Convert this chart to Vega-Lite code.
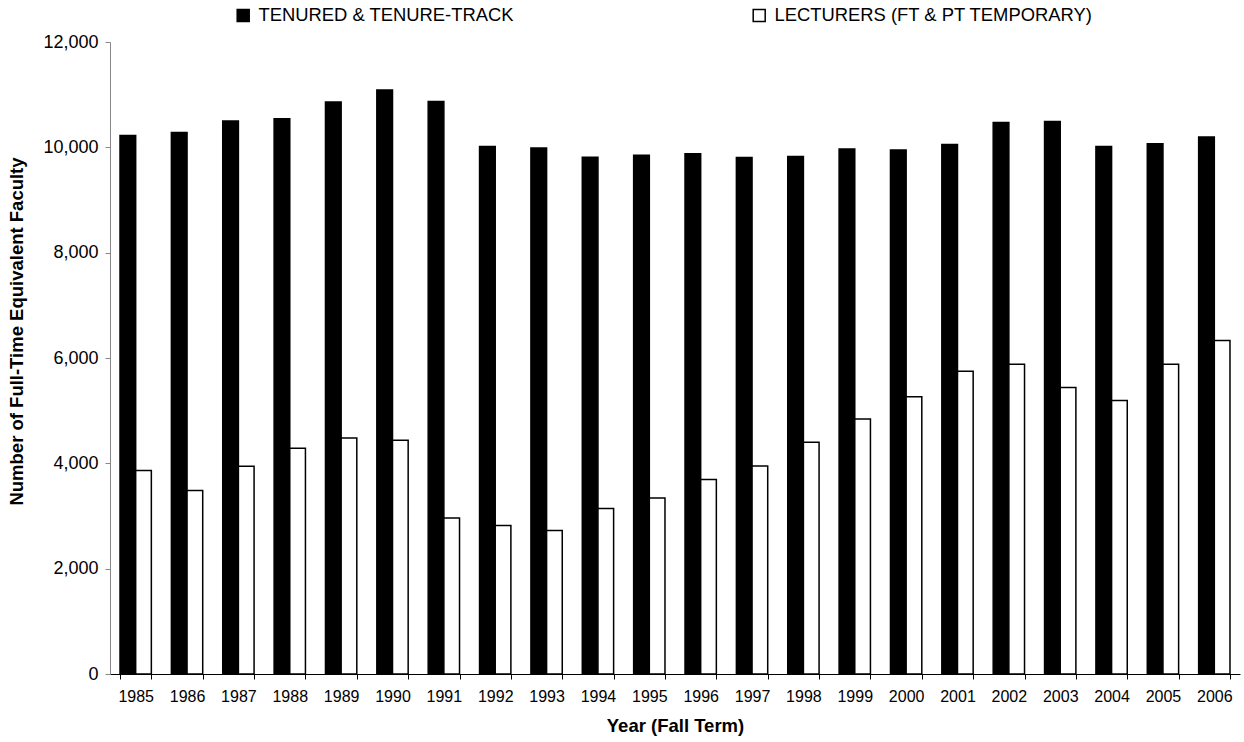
{
  "$schema": "https://vega.github.io/schema/vega-lite/v6.json",
  "width": 1130,
  "height": 632,
  "autosize": {"type": "none"},
  "padding": {"left": 110, "top": 42, "right": 4, "bottom": 68},
  "background": "white",
  "config": {
    "view": {"stroke": null},
    "font": "Liberation Sans",
    "axis": {"grid": false, "labelFont": "Liberation Sans", "titleFont": "Liberation Sans", "labelColor": "black", "titleColor": "black"},
    "legend": {"labelFont": "Liberation Sans", "labelColor": "black"}
  },
  "data": {
    "values": [
      {"year": "1985", "series": "TENURED & TENURE-TRACK", "value": 10224},
      {"year": "1986", "series": "TENURED & TENURE-TRACK", "value": 10281},
      {"year": "1987", "series": "TENURED & TENURE-TRACK", "value": 10498},
      {"year": "1988", "series": "TENURED & TENURE-TRACK", "value": 10542},
      {"year": "1989", "series": "TENURED & TENURE-TRACK", "value": 10860},
      {"year": "1990", "series": "TENURED & TENURE-TRACK", "value": 11088},
      {"year": "1991", "series": "TENURED & TENURE-TRACK", "value": 10871},
      {"year": "1992", "series": "TENURED & TENURE-TRACK", "value": 10015},
      {"year": "1993", "series": "TENURED & TENURE-TRACK", "value": 9985},
      {"year": "1994", "series": "TENURED & TENURE-TRACK", "value": 9813},
      {"year": "1995", "series": "TENURED & TENURE-TRACK", "value": 9852},
      {"year": "1996", "series": "TENURED & TENURE-TRACK", "value": 9876},
      {"year": "1997", "series": "TENURED & TENURE-TRACK", "value": 9806},
      {"year": "1998", "series": "TENURED & TENURE-TRACK", "value": 9825},
      {"year": "1999", "series": "TENURED & TENURE-TRACK", "value": 9966},
      {"year": "2000", "series": "TENURED & TENURE-TRACK", "value": 9947},
      {"year": "2001", "series": "TENURED & TENURE-TRACK", "value": 10053},
      {"year": "2002", "series": "TENURED & TENURE-TRACK", "value": 10472},
      {"year": "2003", "series": "TENURED & TENURE-TRACK", "value": 10491},
      {"year": "2004", "series": "TENURED & TENURE-TRACK", "value": 10015},
      {"year": "2005", "series": "TENURED & TENURE-TRACK", "value": 10067},
      {"year": "2006", "series": "TENURED & TENURE-TRACK", "value": 10194},
      {"year": "1985", "series": "LECTURERS (FT & PT TEMPORARY)", "value": 3866},
      {"year": "1986", "series": "LECTURERS (FT & PT TEMPORARY)", "value": 3486},
      {"year": "1987", "series": "LECTURERS (FT & PT TEMPORARY)", "value": 3943},
      {"year": "1988", "series": "LECTURERS (FT & PT TEMPORARY)", "value": 4285},
      {"year": "1989", "series": "LECTURERS (FT & PT TEMPORARY)", "value": 4481},
      {"year": "1990", "series": "LECTURERS (FT & PT TEMPORARY)", "value": 4437},
      {"year": "1991", "series": "LECTURERS (FT & PT TEMPORARY)", "value": 2960},
      {"year": "1992", "series": "LECTURERS (FT & PT TEMPORARY)", "value": 2820},
      {"year": "1993", "series": "LECTURERS (FT & PT TEMPORARY)", "value": 2725},
      {"year": "1994", "series": "LECTURERS (FT & PT TEMPORARY)", "value": 3144},
      {"year": "1995", "series": "LECTURERS (FT & PT TEMPORARY)", "value": 3340},
      {"year": "1996", "series": "LECTURERS (FT & PT TEMPORARY)", "value": 3695},
      {"year": "1997", "series": "LECTURERS (FT & PT TEMPORARY)", "value": 3949},
      {"year": "1998", "series": "LECTURERS (FT & PT TEMPORARY)", "value": 4399},
      {"year": "1999", "series": "LECTURERS (FT & PT TEMPORARY)", "value": 4840},
      {"year": "2000", "series": "LECTURERS (FT & PT TEMPORARY)", "value": 5264},
      {"year": "2001", "series": "LECTURERS (FT & PT TEMPORARY)", "value": 5749},
      {"year": "2002", "series": "LECTURERS (FT & PT TEMPORARY)", "value": 5883},
      {"year": "2003", "series": "LECTURERS (FT & PT TEMPORARY)", "value": 5442},
      {"year": "2004", "series": "LECTURERS (FT & PT TEMPORARY)", "value": 5195},
      {"year": "2005", "series": "LECTURERS (FT & PT TEMPORARY)", "value": 5883},
      {"year": "2006", "series": "LECTURERS (FT & PT TEMPORARY)", "value": 6333}
    ]
  },
  "mark": {"type": "bar", "stroke": "black", "strokeWidth": 1.5},
  "encoding": {
    "x": {
      "field": "year",
      "type": "ordinal",
      "scale": {"paddingInner": 0.39, "paddingOuter": 0.195},
      "axis": {
        "title": "Year (Fall Term)",
        "labelAngle": 0,
        "tickBand": "extent",
        "domainColor": "black",
        "tickColor": "black",
        "tickSize": 5,
        "labelFontSize": 16,
        "labelPadding": 9,
        "titleFontSize": 18.5,
        "titleFontWeight": "bold",
        "titlePadding": 12
      }
    },
    "xOffset": {"field": "series", "type": "nominal", "sort": ["TENURED & TENURE-TRACK", "LECTURERS (FT & PT TEMPORARY)"]},
    "y": {
      "field": "value",
      "type": "quantitative",
      "scale": {"domain": [0, 12000], "nice": false},
      "axis": {
        "title": "Number of Full-Time Equivalent Faculty",
        "values": [0, 2000, 4000, 6000, 8000, 10000, 12000],
        "format": ",.0f",
        "domainColor": "#888888",
        "tickColor": "#888888",
        "tickSize": 5,
        "labelFontSize": 18,
        "labelPadding": 7,
        "titleFontSize": 18.5,
        "titleFontWeight": "bold",
        "titlePadding": 16,
        "titleY": 289
      }
    },
    "color": {
      "field": "series",
      "type": "nominal",
      "sort": ["TENURED & TENURE-TRACK", "LECTURERS (FT & PT TEMPORARY)"],
      "scale": {"range": ["black", "white"]},
      "legend": {
        "title": null,
        "orient": "none",
        "legendX": 124,
        "legendY": -36,
        "direction": "horizontal",
        "symbolType": "square",
        "symbolSize": 144,
        "symbolStrokeColor": "black",
        "symbolStrokeWidth": 1.5,
        "labelFontSize": 18.4,
        "labelOffset": 6,
        "labelLimit": 500,
        "columnPadding": 236,
        "padding": 0
      }
    }
  }
}
